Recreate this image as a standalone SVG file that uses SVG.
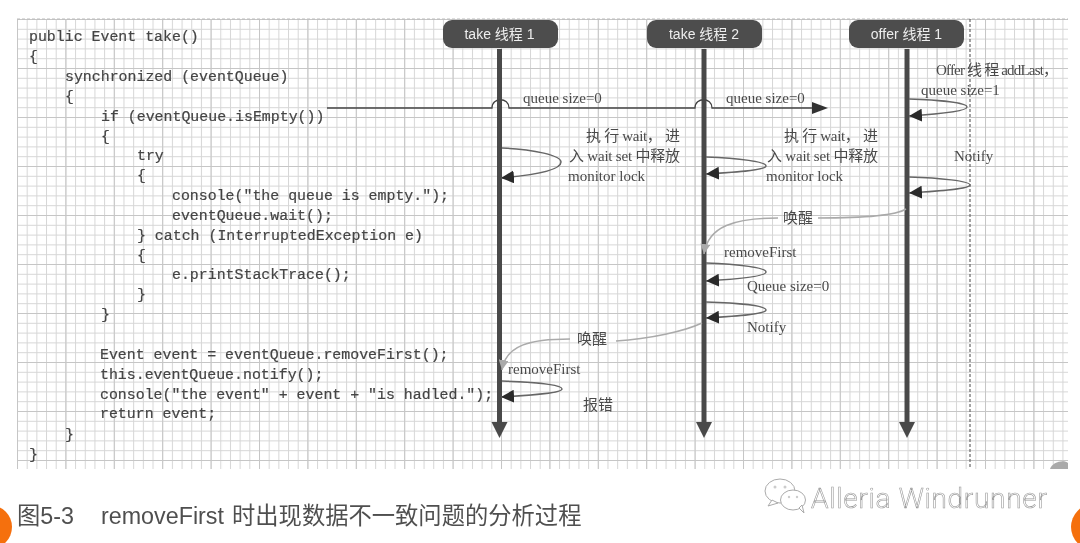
<svg xmlns="http://www.w3.org/2000/svg" width="1080" height="543" viewBox="0 0 1080 543">
<style>
.code{font-family:"Liberation Mono",monospace;font-size:14.9px;fill:#444;stroke:#444;stroke-width:.2;white-space:pre}
.lab{font-family:"Liberation Serif","Noto Sans CJK SC",serif;font-size:15px;fill:#4a4a4a}
.nodebox{fill:#4d4d4d}
.nodetxt{font-family:"Liberation Sans","Noto Sans CJK SC",sans-serif;font-size:14px;fill:#eeeeee;text-anchor:middle}
.life{stroke:#4a4a4a;stroke-width:5;fill:none}
.head{fill:#4a4a4a}
.loop{stroke:#666;stroke-width:1.5;fill:none;marker-end:url(#arrow)}
.wake{stroke:#aaa;stroke-width:1.5;fill:none}
.wm{font-family:Roboto,"Liberation Sans",sans-serif;font-size:28px;font-weight:300;letter-spacing:.7px;fill:#fff;stroke:#999;stroke-width:.6}
.wi{fill:#fff;stroke:#aaa;stroke-width:1}
.cap{font-family:"Liberation Sans","Noto Sans CJK SC",sans-serif;font-size:23.3px;fill:#505050}
</style>
<defs>
<pattern id="minor" x="17" y="19" width="9.68" height="9.8" patternUnits="userSpaceOnUse">
<path d="M.5 0V9.8M0 .5H9.68" fill="none" stroke="#d6d6d6" stroke-width="1"/>
</pattern>
<pattern id="major" x="17" y="19" width="48.4" height="49" patternUnits="userSpaceOnUse">
<path d="M.5 0V49M0 .5H48.4" fill="none" stroke="#c6c6c6" stroke-width="1"/>
</pattern>
<marker id="arrow" viewBox="0 0 13 13" refX="13" refY="6.500" markerWidth="13" markerHeight="13" markerUnits="userSpaceOnUse" orient="auto">
<path d="M13 6.500L0 0V13Z" fill="#2a2a2a"/>
</marker>
<marker id="garrow" viewBox="0 0 10 10" refX="10" refY="5" markerWidth="10" markerHeight="10" markerUnits="userSpaceOnUse" orient="auto">
<path d="M10 5L0 0V10Z" fill="#aaa"/>
</marker>
<filter id="soft" x="-2%" y="-2%" width="104%" height="104%"><feGaussianBlur stdDeviation="0.45"/></filter>
</defs>
<rect width="1080" height="543" fill="#fff"/>
<g filter="url(#soft)">
<g id="grid">
<rect x="17" y="19" width="1051" height="450" fill="url(#minor)"/>
<rect x="17" y="19" width="1051" height="450" fill="url(#major)"/>
<path d="M17 19H1068" stroke="#bbb" stroke-dasharray="3 2" fill="none"/>
<path d="M970 19V469" stroke="#666" stroke-width="1.2" stroke-dasharray="3 2" fill="none"/>
<path d="M1050 469C1052 462 1064 459 1068 463V469Z" fill="#aaa"/>
</g>
<g id="code">
<text class="code" x="29" y="41">public Event take()</text>
<text class="code" x="29" y="61">{</text>
<text class="code" x="65" y="81">synchronized (eventQueue)</text>
<text class="code" x="65" y="101">{</text>
<text class="code" x="101" y="121">if (eventQueue.isEmpty())</text>
<text class="code" x="101" y="141">{</text>
<text class="code" x="137" y="160">try</text>
<text class="code" x="137" y="180">{</text>
<text class="code" x="172" y="200">console("the queue is empty.");</text>
<text class="code" x="172" y="220">eventQueue.wait();</text>
<text class="code" x="137" y="240">} catch (InterruptedException e)</text>
<text class="code" x="137" y="260">{</text>
<text class="code" x="172" y="279">e.printStackTrace();</text>
<text class="code" x="137" y="299">}</text>
<text class="code" x="101" y="319">}</text>
<text class="code" x="100" y="359">Event event = eventQueue.removeFirst();</text>
<text class="code" x="100" y="379">this.eventQueue.notify();</text>
<text class="code" x="100" y="399">console("the event" + event + "is hadled.");</text>
<text class="code" x="100" y="418">return event;</text>
<text class="code" x="65" y="439">}</text>
<text class="code" x="29" y="459">}</text>
</g>
<g id="connectors">
<path class="life" d="M499.500 49V424"/><path class="head" d="M491.500 422H507.500L499.500 438Z"/>
<path class="life" d="M704 49V424"/><path class="head" d="M696 422H712L704 438Z"/>
<path class="life" d="M907 49V424"/><path class="head" d="M899 422H915L907 438Z"/>
<path d="M327 108H492C492 97 509 97 509 108H695C695 97 712 97 712 108H813" stroke="#444" stroke-width="1.3" fill="none"/>
<path d="M828 108L812 102V114Z" fill="#333"/>
<path class="loop" d="M502 148C535 149 561 156 561 162C561 170 535 175 501 178"/>
<path class="loop" d="M706 157C740 158 766 162 766 166C766 170 740 172 706 174"/>
<path class="loop" d="M909 99C940 100 967 103 967 107C967 111 940 114 909 116"/>
<path class="loop" d="M909 177C940 178 970 181 970 185C970 189 940 191 909 193"/>
<path class="loop" d="M706 263C740 264 766 268 766 272C766 276 740 279 706 281"/>
<path class="loop" d="M706 302C740 303 766 306 766 310C766 314 740 316 706 318"/>
<path class="loop" d="M502 381C535 382 562 385 562 389C562 393 535 395 501 397"/>
<path class="wake" d="M818 218C860 218 895 216 906 209"/>
<path class="wake" d="M778 218C735 218 708 226 704 254" marker-end="url(#garrow)"/>
<path class="wake" d="M616 341C650 339 685 331 702 323"/>
<path class="wake" d="M570 339C530 339 506 345 502 370" marker-end="url(#garrow)"/>
</g>
<g id="labels">
<text class="lab" x="523" y="103">queue size=0</text>
<text class="lab" x="726" y="103">queue size=0</text>
<text class="lab" x="586" y="141" textLength="94">执 行 wait， 进</text>
<text class="lab" x="569" y="161" textLength="111">入 wait set 中释放</text>
<text class="lab" x="568" y="181">monitor lock</text>
<text class="lab" x="784" y="141" textLength="94">执 行 wait， 进</text>
<text class="lab" x="767" y="161" textLength="111">入 wait set 中释放</text>
<text class="lab" x="766" y="181">monitor lock</text>
<text class="lab" x="936" y="75" textLength="122">Offer 线 程 addLast，</text>
<text class="lab" x="921" y="95">queue size=1</text>
<text class="lab" x="954" y="161">Notify</text>
<text class="lab" x="783" y="223">唤醒</text>
<text class="lab" x="724" y="257">removeFirst</text>
<text class="lab" x="747" y="291">Queue size=0</text>
<text class="lab" x="747" y="332">Notify</text>
<text class="lab" x="577" y="344">唤醒</text>
<text class="lab" x="508" y="374">removeFirst</text>
<text class="lab" x="583" y="410">报错</text>
</g>
<g id="node-take1"><rect class="nodebox" x="443" y="20" width="115" height="28" rx="9"/><text class="nodetxt" x="499.500" y="39">take 线程 1</text></g>
<g id="node-take2"><rect class="nodebox" x="647" y="20" width="115" height="28" rx="9"/><text class="nodetxt" x="704" y="39">take 线程 2</text></g>
<g id="node-offer1"><rect class="nodebox" x="849" y="20" width="115" height="28" rx="9"/><text class="nodetxt" x="906.500" y="39">offer 线程 1</text></g>
<text class="cap" y="524"><tspan x="17">图5-3</tspan><tspan x="101">removeFirst</tspan><tspan x="232">时出现数据不一致问题的分析过程</tspan></text>
<g id="watermark">
<ellipse class="wi" cx="780" cy="491" rx="15" ry="12"/>
<path class="wi" d="M772 500L768 506L778 503Z"/>
<ellipse class="wi" cx="793" cy="500" rx="12.500" ry="10"/>
<path class="wi" d="M799 508L804 513L802 505Z"/>
<circle cx="775" cy="487" r="1.500" fill="#ccc"/><circle cx="785" cy="487" r="1.500" fill="#ccc"/>
<circle cx="789" cy="497" r="1.200" fill="#ccc"/><circle cx="797" cy="497" r="1.200" fill="#ccc"/>
<text class="wm" x="811" y="508">Alleria Windrunner</text>
</g>
<circle cx="-10" cy="527" r="22" fill="#f5700f"/>
<circle cx="1094" cy="527" r="23" fill="#f5700f"/>
</g>
</svg>
